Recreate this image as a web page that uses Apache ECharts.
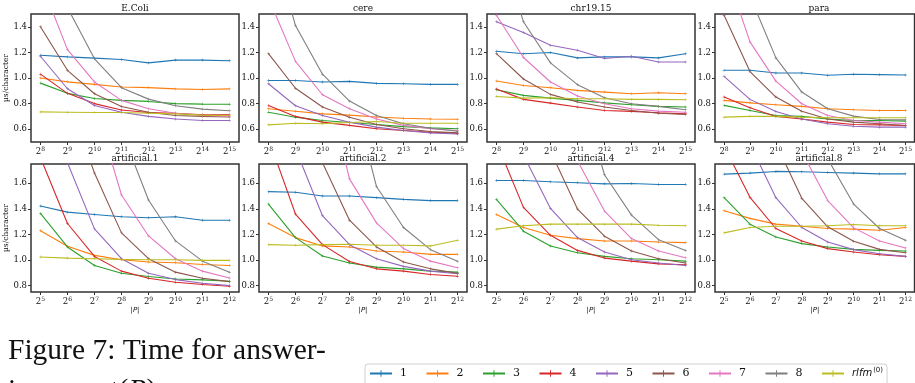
<!DOCTYPE html>
<html>
<head>
<meta charset="utf-8">
<script src="https://cdn.jsdelivr.net/npm/echarts@6/dist/echarts.min.js"></script>
<style>
  html, body { margin: 0; padding: 0; background: #fff; }
  #chart { width: 915px; height: 383px; }
</style>
</head>
<body>
<div id="chart"></div>
<script>
// series order: 1..8, rlfm(0)
const seriesNames = ['1', '2', '3', '4', '5', '6', '7', '8', 'rlfm(0)']
const colors = ['#1f77b4', '#ff7f0e', '#2ca02c', '#d62728', '#9467bd', '#8c564b', '#e377c2', '#7f7f7f', '#bcbd22']

// log2 |P| on the x axes
const expTop = [8, 9, 10, 11, 12, 13, 14, 15]
const expBottom = [5, 6, 7, 8, 9, 10, 11, 12]
const yTicksTop = [0.6, 0.8, 1.0, 1.2, 1.4]
const yTicksBottom = [0.8, 1.0, 1.2, 1.4, 1.6]

const panelTitles = ['E.Coli', 'cere', 'chr19.15', 'para', 'artificial.1', 'artificial.2', 'artificial.4', 'artificial.8']

// µs/character per panel, one row per series
const eColi = [
  [1.178, 1.165, 1.155, 1.145, 1.118, 1.14, 1.14, 1.135],
  [1.0, 0.97, 0.95, 0.93, 0.925, 0.915, 0.91, 0.915],
  [0.96, 0.88, 0.84, 0.825, 0.817, 0.80, 0.796, 0.795],
  [1.03, 0.88, 0.80, 0.75, 0.73, 0.725, 0.712, 0.712],
  [1.17, 0.916, 0.785, 0.733, 0.70, 0.68, 0.668, 0.668],
  [1.40, 1.06, 0.877, 0.778, 0.733, 0.707, 0.70, 0.695],
  [1.76, 1.222, 0.969, 0.825, 0.76, 0.725, 0.707, 0.70],
  [null, 1.55, 1.15, 0.924, 0.835, 0.783, 0.757, 0.744],
  [0.735, 0.733, 0.73, 0.73, 0.725, 0.72, 0.71, 0.705]
]
const cere = [
  [0.98, 0.98, 0.969, 0.974, 0.958, 0.955, 0.95, 0.95],
  [0.76, 0.74, 0.72, 0.71, 0.695, 0.686, 0.68, 0.678],
  [0.733, 0.694, 0.668, 0.652, 0.637, 0.62, 0.61, 0.603],
  [0.786, 0.70, 0.655, 0.63, 0.603, 0.59, 0.576, 0.569],
  [0.955, 0.783, 0.707, 0.655, 0.616, 0.59, 0.571, 0.563],
  [1.19, 0.92, 0.773, 0.694, 0.637, 0.603, 0.582, 0.571],
  [1.625, 1.13, 0.869, 0.76, 0.68, 0.63, 0.603, 0.59],
  [2.16, 1.41, 1.03, 0.82, 0.707, 0.642, 0.608, 0.584],
  [0.634, 0.647, 0.642, 0.652, 0.66, 0.647, 0.647, 0.647]
]
const chr19 = [
  [1.209, 1.19, 1.199, 1.157, 1.165, 1.165, 1.157, 1.19],
  [0.976, 0.942, 0.924, 0.903, 0.89, 0.877, 0.885, 0.877],
  [0.908, 0.864, 0.843, 0.825, 0.806, 0.791, 0.778, 0.773],
  [0.914, 0.833, 0.804, 0.773, 0.746, 0.739, 0.728, 0.72],
  [1.44, 1.355, 1.256, 1.217, 1.152, 1.17, 1.125, 1.125],
  [1.19, 0.992, 0.872, 0.812, 0.773, 0.746, 0.725, 0.715],
  [1.49, 1.16, 0.969, 0.859, 0.799, 0.76, 0.741, 0.733],
  [2.1, 1.44, 1.118, 0.948, 0.846, 0.799, 0.778, 0.752],
  [0.856, 0.843, 0.846, 0.838, 0.838, 0.833, 0.833, 0.83]
]
const para = [
  [1.06, 1.06, 1.039, 1.039, 1.021, 1.029, 1.026, 1.023],
  [0.825, 0.806, 0.791, 0.778, 0.76, 0.752, 0.746, 0.746],
  [0.786, 0.746, 0.707, 0.70, 0.68, 0.668, 0.668, 0.663],
  [0.851, 0.767, 0.70, 0.68, 0.655, 0.637, 0.634, 0.629],
  [1.013, 0.833, 0.739, 0.68, 0.642, 0.623, 0.616, 0.616],
  [1.49, 1.05, 0.851, 0.741, 0.68, 0.655, 0.642, 0.629],
  [1.88, 1.282, 0.976, 0.799, 0.707, 0.668, 0.655, 0.642],
  [null, 1.64, 1.157, 0.89, 0.76, 0.702, 0.676, 0.673],
  [0.694, 0.70, 0.70, 0.694, 0.689, 0.689, 0.689, 0.689]
]
const artificial1 = [
  [1.422, 1.374, 1.356, 1.338, 1.33, 1.338, 1.311, 1.311],
  [1.228, 1.107, 1.036, 1.002, 0.984, 0.978, 0.965, 0.957],
  [1.364, 1.102, 0.957, 0.897, 0.871, 0.852, 0.845, 0.834],
  [1.80, 1.285, 1.028, 0.913, 0.858, 0.826, 0.808, 0.795],
  [null, 1.76, 1.243, 1.01, 0.897, 0.847, 0.818, 0.80],
  [null, 2.26, 1.68, 1.212, 1.01, 0.905, 0.858, 0.831],
  [null, null, 2.22, 1.508, 1.188, 1.01, 0.913, 0.86],
  [null, null, null, 2.01, 1.469, 1.149, 0.991, 0.905],
  [1.023, 1.015, 1.01, 1.005, 1.002, 1.002, 0.997, 0.997]
]
const artificial2 = [
  [1.534, 1.529, 1.50, 1.50, 1.487, 1.474, 1.464, 1.464],
  [1.285, 1.175, 1.11, 1.102, 1.07, 1.062, 1.044, 1.044],
  [1.437, 1.175, 1.031, 0.976, 0.944, 0.931, 0.913, 0.905],
  [1.95, 1.359, 1.12, 0.989, 0.931, 0.913, 0.887, 0.873],
  [null, 1.87, 1.346, 1.12, 1.01, 0.95, 0.913, 0.892],
  [null, null, 1.76, 1.311, 1.102, 0.984, 0.931, 0.897],
  [null, null, 2.5, 1.634, 1.29, 1.089, 0.991, 0.939],
  [null, null, null, 2.39, 1.574, 1.254, 1.081, 0.991],
  [1.12, 1.115, 1.12, 1.123, 1.115, 1.115, 1.11, 1.154]
]
const artificial4 = [
  [1.621, 1.621, 1.611, 1.603, 1.595, 1.598, 1.59, 1.59],
  [1.356, 1.254, 1.193, 1.167, 1.149, 1.149, 1.141, 1.136],
  [1.474, 1.225, 1.11, 1.057, 1.028, 1.01, 1.002, 0.991],
  [1.92, 1.411, 1.193, 1.075, 1.015, 0.991, 0.97, 0.963],
  [null, 1.82, 1.403, 1.175, 1.062, 1.002, 0.976, 0.957],
  [null, null, 1.85, 1.398, 1.186, 1.07, 1.01, 0.976],
  [null, null, null, 1.775, 1.382, 1.167, 1.07, 1.018],
  [null, null, null, 2.38, 1.666, 1.351, 1.159, 1.075],
  [1.241, 1.267, 1.28, 1.28, 1.28, 1.28, 1.272, 1.267]
]
const artificial8 = [
  [1.671, 1.679, 1.692, 1.689, 1.684, 1.679, 1.673, 1.673],
  [1.385, 1.325, 1.28, 1.264, 1.246, 1.241, 1.233, 1.254],
  [1.487, 1.28, 1.18, 1.128, 1.102, 1.083, 1.075, 1.07],
  [1.89, 1.49, 1.246, 1.149, 1.089, 1.062, 1.041, 1.028],
  [null, 1.905, 1.487, 1.254, 1.141, 1.081, 1.049, 1.028],
  [null, null, 1.91, 1.482, 1.259, 1.146, 1.083, 1.057],
  [null, null, null, 1.845, 1.464, 1.251, 1.149, 1.094],
  [null, null, null, null, 1.79, 1.437, 1.246, 1.154],
  [1.212, 1.254, 1.264, 1.264, 1.267, 1.277, 1.267, 1.267]
]
const panelData = [eColi, cere, chr19, para, artificial1, artificial2, artificial4, artificial8]

// layout (px)
const colLeft = [31, 259, 487, 715]
const plotW = 208
const rowTop = [14, 164]
const plotH = 128
const serif = 'DejaVu Serif'
const plusMarker = 'path://M4.25,0h1.5v10h-1.5zM0,4.25h10v1.5h-10z'

const grids = []
const xAxes = []
const yAxes = []
const series = []
const graphics = []

panelData.forEach((rows, p) => {
  const row = p < 4 ? 0 : 1
  const col = p % 4
  const exps = row === 0 ? expTop : expBottom
  const yTicks = row === 0 ? yTicksTop : yTicksBottom

  grids.push({
    left: colLeft[col], top: rowTop[row], width: plotW, height: plotH,
    show: true, borderColor: '#333', borderWidth: 1.5, backgroundColor: '#fff'
  })

  xAxes.push({
    gridIndex: p, type: 'value',
    min: exps[0] - 0.35, max: exps[exps.length - 1] + 0.35,
    axisLine: { show: false },
    splitLine: { show: false },
    axisTick: { show: true, length: 3, customValues: exps, lineStyle: { color: '#333', width: 1 } },
    axisLabel: {
      customValues: exps, margin: 4, color: '#111',
      formatter: (v) => '{b|2}{s|' + v + '}',
      rich: {
        b: { fontFamily: serif, fontSize: 8.5, color: '#111' },
        s: { fontFamily: serif, fontSize: 6, color: '#111', padding: [0, 0, 5, 0] }
      }
    },
    name: row === 1 ? '|P|' : '',
    nameLocation: 'middle', nameGap: 14,
    nameTextStyle: { fontFamily: 'DejaVu Sans', fontStyle: 'italic', fontSize: 7, color: '#111' }
  })

  yAxes.push({
    gridIndex: p, type: 'value',
    min: row === 0 ? 0.5 : 0.75, max: row === 0 ? 1.5 : 1.75,
    axisLine: { show: false },
    splitLine: { show: false },
    axisTick: { show: true, length: 3, customValues: yTicks, lineStyle: { color: '#333', width: 1 } },
    axisLabel: {
      customValues: yTicks, margin: 4, color: '#111',
      fontFamily: serif, fontSize: 8.5,
      formatter: (v) => v.toFixed(1)
    },
    name: col === 0 ? 'µs/character' : '',
    nameLocation: 'middle', nameGap: 19,
    nameTextStyle: { fontFamily: serif, fontSize: 7.5, color: '#111' }
  })

  rows.forEach((vals, s) => {
    series.push({
      type: 'line', name: seriesNames[s],
      xAxisIndex: p, yAxisIndex: p,
      data: exps.map((e, i) => [e, vals[i]]),
      symbol: plusMarker, symbolSize: 3, showSymbol: true,
      lineStyle: { color: colors[s], width: 1.1 },
      itemStyle: { color: colors[s] },
      clip: true, silent: true,
      emphasis: { disabled: true }
    })
  })

  graphics.push({
    type: 'text',
    x: colLeft[col] + plotW / 2, y: row === 0 ? 8.5 : 159,
    style: {
      text: panelTitles[p], fontFamily: serif, fontSize: 9, fill: '#111',
      align: 'center', verticalAlign: 'middle'
    }
  })
})

// caption
graphics.push({
  type: 'text', x: 8, y: 336,
  style: { text: 'Figure 7: Time for answer-', fontFamily: 'Liberation Serif', fontSize: 29.5, fill: '#111' }
})
graphics.push({
  type: 'text', x: 8, y: 376,
  style: {
    text: '{a|ing count(}{i|P}{a|)}',
    rich: {
      a: { fontFamily: 'Liberation Serif', fontSize: 29.5, fill: '#111' },
      i: { fontFamily: 'Liberation Serif', fontStyle: 'italic', fontSize: 29.5, fill: '#111' }
    }
  }
})

const chart = echarts.init(document.getElementById('chart'), null, { renderer: 'canvas' })
chart.setOption({
  animation: false,
  backgroundColor: '#fff',
  grid: grids,
  xAxis: xAxes,
  yAxis: yAxes,
  series: series,
  graphic: graphics,
  legend: {
    data: seriesNames,
    left: 365, top: 364, width: 600,
    orient: 'horizontal',
    itemWidth: 22, itemHeight: 8, itemGap: 18.5,
    padding: [3, 4, 8, 4],
    borderColor: '#d0d0d0', borderWidth: 1, borderRadius: 3,
    backgroundColor: '#fff',
    selectedMode: false,
    textStyle: {
      fontFamily: serif, fontSize: 11, color: '#111', padding: [0, 0, 0, 3],
      rich: {
        i: { fontFamily: 'DejaVu Sans', fontStyle: 'italic', fontSize: 10, color: '#111' },
        s: { fontFamily: 'DejaVu Sans', fontSize: 7, color: '#111', padding: [0, 0, 6, 1] }
      }
    },
    formatter: (name) => (name === 'rlfm(0)' ? '{i|rlfm}{s|(0)}' : name)
  }
})
</script>
</body>
</html>
